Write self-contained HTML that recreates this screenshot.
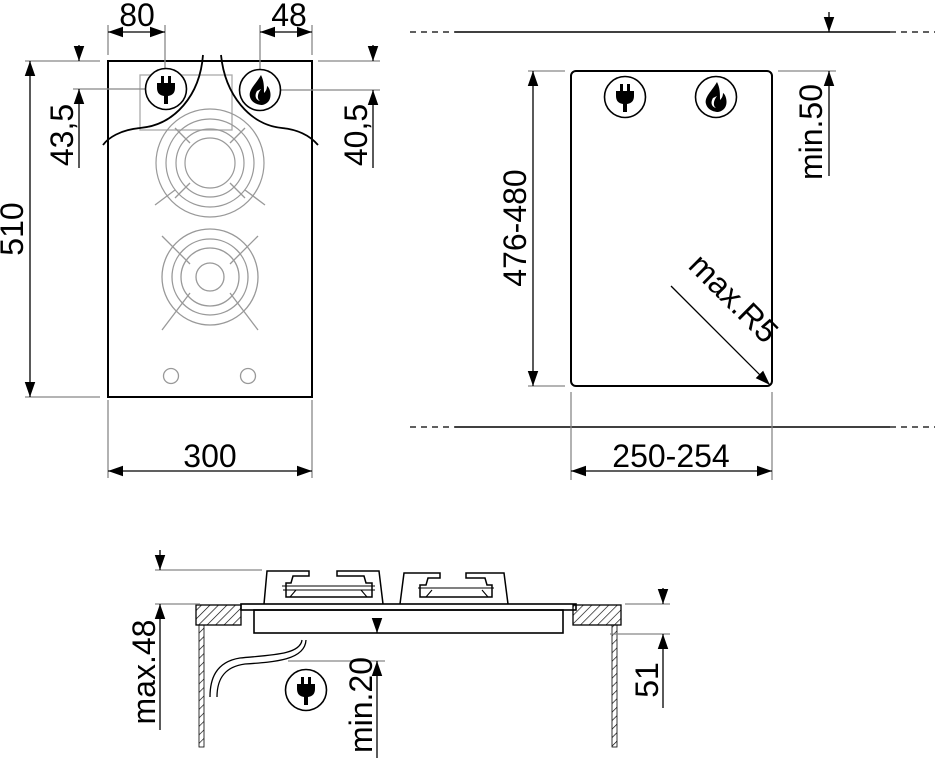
<!DOCTYPE html>
<html><head><meta charset="utf-8"><style>
html,body{margin:0;padding:0;background:#fff}
svg{display:block}
text{font-family:"Liberation Sans",sans-serif;font-size:32px;fill:#000}
</style></head><body>
<svg width="936" height="758" viewBox="0 0 936 758" xmlns="http://www.w3.org/2000/svg">
<defs>
<marker id="a" viewBox="0 0 10 10" refX="10" refY="5" markerWidth="15" markerHeight="15" markerUnits="userSpaceOnUse" orient="auto-start-reverse"><path d="M0,1.5 L10,5 L0,8.5z" fill="#000"/></marker>
<g id="plug"><circle r="20.5" fill="#fff" stroke="#000" stroke-width="1.6"/><rect x="-5" y="-13" width="3" height="7"/><rect x="2" y="-13" width="3" height="7"/><path d="M-9,-6 H9 V-1 Q9,6 2,7 V15 H-2 V7 Q-9,6 -9,-1z"/></g>
<g id="flame"><circle r="20.5" fill="#fff" stroke="#000" stroke-width="1.6"/><path d="M1,-15 C-4,-6 -12,0 -10,7 C-8,14 0,15 2,15 C8,14 12,9 10,1 C9,-3 7,-4 7,-4 C7,0 5,2 4,3 C4,-4 4,-9 1,-15z M1,-1 C-3,4 -3,9 0,11 C-4,10 -6,6 -3,1 z" fill="#000" fill-rule="evenodd"/></g>
<g id="burner" fill="none" stroke="#999" stroke-width="1.2"><circle r="54"/><circle r="44"/><circle r="34"/><circle r="25"/></g>
<pattern id="h" width="6" height="6" patternUnits="userSpaceOnUse" patternTransform="rotate(45)"><line x1="0" y1="0" x2="0" y2="6" stroke="#000" stroke-width="1.3"/></pattern>
</defs>
<g stroke="#000" fill="none" stroke-width="1.3">
<rect x="108" y="61" width="204" height="336" stroke-width="2"/>
<rect x="140" y="75" width="92" height="55" stroke="#aaa"/>
<use href="#burner" x="210" y="163"/>
<g stroke="#999"><line x1="175" y1="128" x2="190" y2="143"/><line x1="245" y1="128" x2="230" y2="143"/><line x1="175" y1="198" x2="190" y2="183"/><line x1="245" y1="198" x2="230" y2="183"/><line x1="155" y1="205" x2="175" y2="190"/><line x1="265" y1="205" x2="245" y2="190"/></g>
<g stroke="#999" fill="none"><circle cx="210" cy="277" r="48"/><circle cx="210" cy="277" r="38"/><circle cx="210" cy="277" r="29"/><circle cx="210" cy="277" r="14"/>
<line x1="162" y1="236" x2="190" y2="264"/><line x1="258" y1="236" x2="230" y2="264"/><line x1="162" y1="330" x2="190" y2="293"/><line x1="258" y1="330" x2="230" y2="293"/></g>
<circle cx="171" cy="376" r="7.5" stroke="#999"/><circle cx="248" cy="376" r="7.5" stroke="#999"/>
<path d="M203,55 C200,95 175,125 140,128 C120,130 108,138 103,145" stroke-width="1.8"/>
<path d="M221,55 C225,95 250,125 282,128 C302,130 312,138 318,145" stroke-width="1.8"/>
<line x1="108" y1="25" x2="108" y2="55" stroke="#888"/><line x1="165" y1="25" x2="165" y2="70" stroke="#888"/>
<line x1="108" y1="32" x2="165" y2="32" marker-start="url(#a)" marker-end="url(#a)"/>
<line x1="260" y1="25" x2="260" y2="70" stroke="#888"/><line x1="312" y1="25" x2="312" y2="55" stroke="#888"/>
<line x1="260" y1="32" x2="312" y2="32" marker-start="url(#a)" marker-end="url(#a)"/>
<line x1="25" y1="61" x2="100" y2="61" stroke="#888"/><line x1="73" y1="89" x2="150" y2="89" stroke="#888"/>
<line x1="79" y1="45" x2="79" y2="61" marker-end="url(#a)"/><line x1="79" y1="168" x2="79" y2="89" marker-end="url(#a)"/>
<line x1="25" y1="397" x2="100" y2="397" stroke="#888"/>
<line x1="30" y1="61" x2="30" y2="397" marker-start="url(#a)" marker-end="url(#a)"/>
<line x1="318" y1="61" x2="380" y2="61" stroke="#888"/><line x1="280" y1="90" x2="380" y2="90" stroke="#888"/>
<line x1="373" y1="45" x2="373" y2="61" marker-end="url(#a)"/><line x1="373" y1="168" x2="373" y2="90" marker-end="url(#a)"/>
<line x1="108" y1="400" x2="108" y2="478" stroke="#888"/><line x1="312" y1="400" x2="312" y2="478" stroke="#888"/>
<line x1="108" y1="471" x2="312" y2="471" marker-start="url(#a)" marker-end="url(#a)"/>
<rect x="571" y="71" width="201" height="315" rx="5" stroke-width="2"/>
<path d="M410,32 H455 M890,32 H935 M410,427 H455 M890,427 H935" stroke-dasharray="6,5"/>
<path d="M455,32 H890 M455,427 H890" stroke-width="1.6"/>
<line x1="528" y1="71" x2="565" y2="71" stroke="#888"/><line x1="528" y1="386" x2="565" y2="386" stroke="#888"/>
<line x1="533" y1="71" x2="533" y2="386" marker-start="url(#a)" marker-end="url(#a)"/>
<line x1="778" y1="71" x2="836" y2="71" stroke="#888"/>
<line x1="829" y1="12" x2="829" y2="32" marker-end="url(#a)"/><line x1="829" y1="176" x2="829" y2="71" marker-end="url(#a)"/>
<line x1="571" y1="392" x2="571" y2="480" stroke="#888"/><line x1="772" y1="392" x2="772" y2="480" stroke="#888"/>
<line x1="571" y1="471" x2="772" y2="471" marker-start="url(#a)" marker-end="url(#a)"/>
<line x1="671" y1="286" x2="770" y2="385" marker-end="url(#a)"/>
<rect x="196" y="605" width="45" height="20" fill="url(#h)"/>
<rect x="573" y="605" width="48" height="20" fill="url(#h)"/>
<rect x="199" y="625" width="5" height="122" fill="url(#h)" stroke-width="0.8"/>
<rect x="612" y="625" width="5" height="122" fill="url(#h)" stroke-width="0.8"/>
<rect x="241" y="604" width="335" height="6" stroke-width="1.6"/>
<rect x="254" y="610" width="309" height="23" stroke-width="1.6"/>
<path d="M264,604 L267,571 H309 V576 H293 L291,583 H286 V597 H372 V583 H366 L364,576 H337 V571 H379 L383,604" stroke-width="1.5"/>
<path d="M282,586 H375 M283,590 H375 M290,597 L296,590 M367,597 L361,590" stroke-width="1.1"/>
<path d="M400,604 L404,573 H440 V578 H428 L426,585 H420 V597 H492 V585 H487 L485,578 H466 V573 H504 L508,604" stroke-width="1.5"/>
<path d="M418,588 H494 M426,597 L432,590 M488,597 L482,590" stroke-width="1.1"/>
<path d="M302,640 C300,655 270,655 240,658 C215,662 210,680 210,697 M306,640 C305,660 275,662 245,664 C222,667 217,682 217,697" stroke-width="1.3"/>
<line x1="155" y1="570" x2="262" y2="570" stroke="#888"/><line x1="155" y1="604" x2="200" y2="604" stroke="#888"/>
<line x1="160" y1="550" x2="160" y2="570" marker-end="url(#a)"/><line x1="160" y1="730" x2="160" y2="604" marker-end="url(#a)"/>
<line x1="288" y1="661" x2="385" y2="661" stroke="#888"/>
<line x1="377" y1="618" x2="377" y2="633" marker-end="url(#a)"/><line x1="377" y1="758" x2="377" y2="661" marker-end="url(#a)"/>
<line x1="625" y1="604" x2="670" y2="604" stroke="#888"/><line x1="610" y1="634" x2="670" y2="634" stroke="#888"/>
<line x1="663" y1="588" x2="663" y2="604" marker-end="url(#a)"/><line x1="663" y1="708" x2="663" y2="634" marker-end="url(#a)"/>
</g>
<use href="#plug" x="166" y="89"/><use href="#flame" x="260" y="90"/>
<use href="#plug" x="625" y="97"/><use href="#flame" x="716" y="97"/>
<use href="#plug" x="306" y="690"/>
<text x="137" y="26" text-anchor="middle">80</text>
<text x="289" y="26" text-anchor="middle">48</text>
<text x="210" y="467" text-anchor="middle">300</text>
<text x="671" y="467" text-anchor="middle">250-254</text>
<text transform="translate(73,135) rotate(-90)" text-anchor="middle">43,5</text>
<text transform="translate(23,229) rotate(-90)" text-anchor="middle">510</text>
<text transform="translate(367,135) rotate(-90)" text-anchor="middle">40,5</text>
<text transform="translate(526,228) rotate(-90)" text-anchor="middle">476-480</text>
<text transform="translate(822,132) rotate(-90)" text-anchor="middle">min.50</text>
<text transform="translate(726,306) rotate(45)" text-anchor="middle" font-size="30">max.R5</text>
<text transform="translate(155,672) rotate(-90)" text-anchor="middle">max.48</text>
<text transform="translate(372,705) rotate(-90)" text-anchor="middle">min.20</text>
<text transform="translate(658,680) rotate(-90)" text-anchor="middle">51</text>
</svg>
</body></html>
